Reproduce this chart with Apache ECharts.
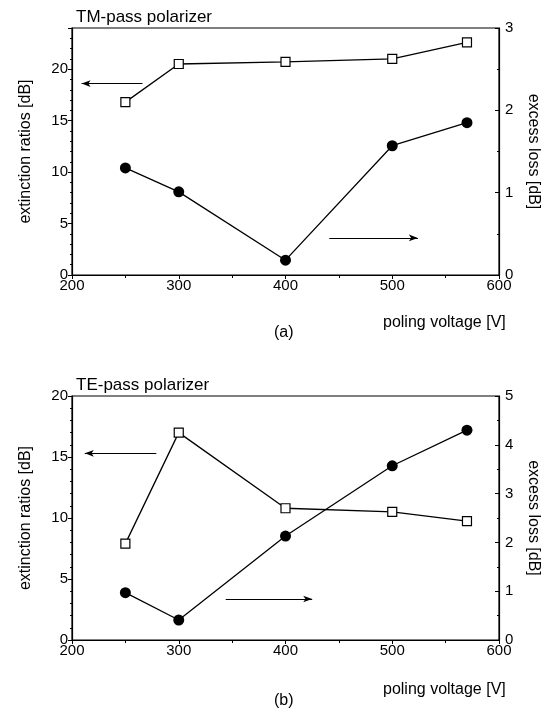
<!DOCTYPE html>
<html>
<head>
<meta charset="utf-8">
<script src="https://cdn.jsdelivr.net/npm/echarts@6/dist/echarts.min.js"></script>
<style>
  html, body { margin: 0; padding: 0; background: #fff; }
  #chart { width: 551px; height: 713px; }
</style>
</head>
<body>
<div id="chart"></div>
<script>
// poling voltage [V]
const voltage = [250, 300, 400, 500, 570];
// (a) TM-pass polarizer
const tmExtinction = [16.8, 20.5, 20.7, 21.0, 22.6];
const tmLoss = [1.30, 1.01, 0.18, 1.57, 1.85];
// (b) TE-pass polarizer
const teExtinction = [7.9, 17.0, 10.8, 10.5, 9.75];
const teLoss = [0.97, 0.41, 2.13, 3.57, 4.30];

const xTicks = [200, 300, 400, 500, 600];

const font = 'Liberation Sans, Arial, sans-serif';
const pairs = ys => voltage.map((v, i) => [v, ys[i]]);

function xAxis(idx) {
    return {
        type: 'value', gridIndex: idx,
        min: xTicks[0], max: xTicks[xTicks.length - 1], interval: 100,
        axisLine: { lineStyle: { color: '#000', width: 1.2 } },
        axisTick: { length: 4, lineStyle: { color: '#000' } },
        minorTick: { show: true, splitNumber: 2, length: 3, lineStyle: { color: '#000' } },
        splitLine: { show: false },
        axisLabel: { color: '#000', fontSize: 15, fontFamily: font, margin: 3 }
    };
}

function leftAxis(idx, max) {
    return {
        type: 'value', gridIndex: idx, position: 'left',
        min: 0, max: max, interval: 5,
        name: 'extinction ratios [dB]', nameLocation: 'middle', nameGap: 38,
        nameTextStyle: { color: '#000', fontSize: 16, fontFamily: font },
        axisLine: { show: true, lineStyle: { color: '#000', width: 1.2 } },
        axisTick: { length: 4, lineStyle: { color: '#000' } },
        minorTick: { show: true, splitNumber: 5, length: 2, lineStyle: { color: '#000' } },
        splitLine: { show: false },
        axisLabel: {
            color: '#000', fontSize: 15, fontFamily: font, margin: 4,
            formatter: v => (v % 5 === 0 ? String(v) : '')
        }
    };
}

function rightAxis(idx, max) {
    return {
        type: 'value', gridIndex: idx, position: 'right',
        min: 0, max: max, interval: 1,
        name: 'excess loss [dB]', nameLocation: 'middle', nameGap: 26, nameRotate: -90,
        nameTextStyle: { color: '#000', fontSize: 16, fontFamily: font },
        axisLine: { show: true, lineStyle: { color: '#000', width: 1.2 } },
        axisTick: { inside: true, length: 4, lineStyle: { color: '#000' } },
        minorTick: { show: true, splitNumber: 2, length: 2, lineStyle: { color: '#000' } },
        splitLine: { show: false },
        axisLabel: { color: '#000', fontSize: 15, fontFamily: font, margin: 6 }
    };
}

function arrow(from, to) {
    return {
        silent: true, animation: false,
        symbol: ['none', 'arrow'], symbolSize: [5, 9],
        label: { show: false },
        lineStyle: { color: '#000', width: 1, type: 'solid' },
        data: [[{ coord: from }, { coord: to }]]
    };
}

function squares(ys, xi, yi, arrowLine) {
    return {
        type: 'line', xAxisIndex: xi, yAxisIndex: yi, data: pairs(ys),
        symbol: 'rect', symbolSize: 9, showAllSymbol: true,
        itemStyle: { color: '#fff', borderColor: '#000', borderWidth: 1.2 },
        lineStyle: { color: '#000', width: 1.3 },
        markLine: arrowLine, animation: false
    };
}

function circles(ys, xi, yi, arrowLine) {
    return {
        type: 'line', xAxisIndex: xi, yAxisIndex: yi, data: pairs(ys),
        symbol: 'circle', symbolSize: 11, showAllSymbol: true,
        itemStyle: { color: '#000', borderColor: '#000', borderWidth: 0 },
        lineStyle: { color: '#000', width: 1.3 },
        markLine: arrowLine, animation: false
    };
}

const titleStyle = { color: '#000', fontSize: 17, fontWeight: 'normal', fontFamily: font };
const noteStyle = { color: '#000', fontSize: 16, fontWeight: 'normal', fontFamily: font };

const option = {
    backgroundColor: '#fff',
    animation: false,
    title: [
        { text: 'TM-pass polarizer', left: 71, top: 4, textStyle: titleStyle },
        { text: 'poling voltage [V]', left: 378, top: 310, textStyle: noteStyle },
        { text: '(a)', left: 269, top: 320, textStyle: noteStyle },
        { text: 'TE-pass polarizer', left: 71, top: 372, textStyle: titleStyle },
        { text: 'poling voltage [V]', left: 378, top: 677, textStyle: noteStyle },
        { text: '(b)', left: 269, top: 688, textStyle: noteStyle }
    ],
    grid: [
        { left: 72, right: 52, top: 28, height: 247, show: true, borderColor: '#000', borderWidth: 1.2, backgroundColor: 'transparent' },
        { left: 72, right: 52, top: 396, height: 244, show: true, borderColor: '#000', borderWidth: 1.2, backgroundColor: 'transparent' }
    ],
    xAxis: [xAxis(0), xAxis(1)],
    yAxis: [leftAxis(0, 24), rightAxis(0, 3), leftAxis(1, 20), rightAxis(1, 5)],
    series: [
        squares(tmExtinction, 0, 0, arrow([266, 18.6], [209, 18.6])),
        circles(tmLoss, 0, 1, arrow([441, 0.45], [524, 0.45])),
        squares(teExtinction, 1, 2, arrow([279, 15.3], [212, 15.3])),
        circles(teLoss, 1, 3, arrow([344, 0.84], [425, 0.84]))
    ]
};

const chart = echarts.init(document.getElementById('chart'));
chart.setOption(option);
window.addEventListener('resize', () => chart.resize());
</script>
</body>
</html>
